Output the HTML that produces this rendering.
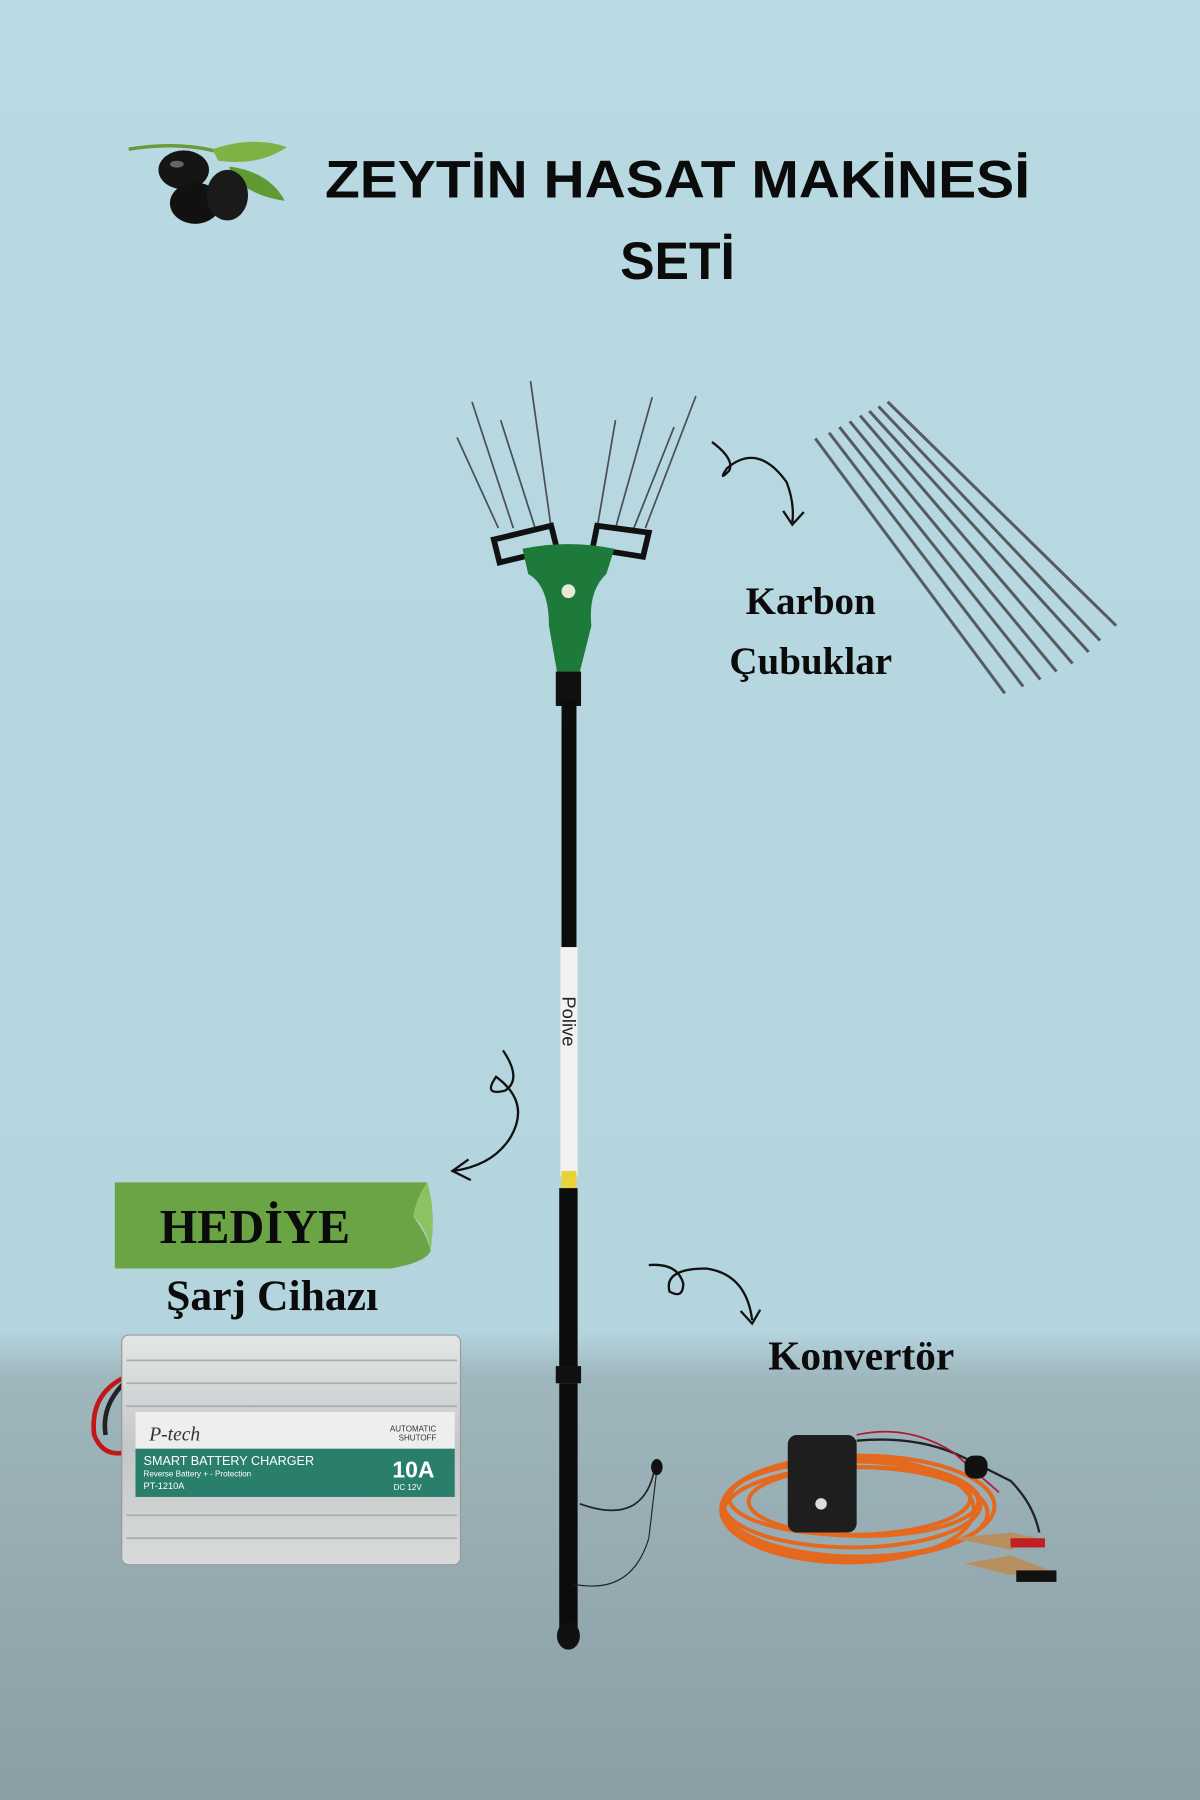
<!DOCTYPE html>
<html><head><meta charset="utf-8"><style>
html,body{margin:0;padding:0;width:1200px;height:1800px;overflow:hidden}
svg{display:block}
</style></head><body>
<svg width="1200" height="1800" viewBox="0 0 1045 1568" preserveAspectRatio="none" xmlns="http://www.w3.org/2000/svg">
<defs>
<linearGradient id="bg" x1="0" y1="0" x2="0" y2="1">
<stop offset="0" stop-color="#b9dae3"/><stop offset="0.74" stop-color="#b4d4de"/>
<stop offset="0.765" stop-color="#9fb6bd"/><stop offset="1" stop-color="#8a9ea3"/>
</linearGradient>
<linearGradient id="silver" x1="0" y1="0" x2="0" y2="1">
<stop offset="0" stop-color="#e4e6e6"/><stop offset="0.5" stop-color="#c4c7c8"/><stop offset="1" stop-color="#d9dbdb"/>
</linearGradient>
</defs>
<rect width="1045" height="1568" fill="url(#bg)"/>
<!-- olives -->
<path d="M112 130 Q160 122 200 135" stroke="#6a9a3a" stroke-width="3" fill="none"/>
<path d="M185 130 Q220 118 250 128 Q225 145 190 140Z" fill="#7fb245"/>
<path d="M200 145 Q235 150 248 175 Q215 170 200 150Z" fill="#5f9a32"/>
<ellipse cx="160" cy="148" rx="22" ry="17" fill="#151515"/>
<ellipse cx="170" cy="177" rx="22" ry="18" fill="#111"/>
<ellipse cx="198" cy="170" rx="18" ry="22" fill="#1a1a1a"/>
<ellipse cx="154" cy="143" rx="6" ry="3" fill="#666"/>
<!-- title -->
<g font-family="Liberation Sans, sans-serif" font-weight="bold" font-size="46" fill="#0b0b0b">
<text x="283" y="172" textLength="614" lengthAdjust="spacingAndGlyphs">ZEYTİN HASAT MAKİNESİ</text>
<text x="540" y="243" textLength="100" lengthAdjust="spacingAndGlyphs">SETİ</text>
</g>
<!-- tines -->
<g stroke="#4a5055" stroke-width="1.5">
<line x1="398" y1="381" x2="434" y2="460"/><line x1="411" y1="350" x2="447" y2="460"/>
<line x1="436" y1="366" x2="466" y2="460"/><line x1="462" y1="332" x2="480" y2="460"/>
<line x1="536" y1="366" x2="520" y2="460"/><line x1="568" y1="346" x2="536" y2="460"/>
<line x1="587" y1="372" x2="552" y2="460"/><line x1="606" y1="345" x2="562" y2="460"/>
</g>
<path d="M430 470 L480 458 L485 478 L435 490Z M520 458 L565 464 L560 485 L516 478Z" fill="none" stroke="#111" stroke-width="5"/>
<!-- head -->
<path d="M455 478 Q495 470 535 478 L528 500 Q512 515 515 545 L505 585 L485 585 L478 545 Q478 510 460 500Z" fill="#1d7a3a"/>
<circle cx="495" cy="515" r="6" fill="#e8e8d8"/>
<!-- pole -->
<rect x="484" y="585" width="22" height="30" fill="#111"/>
<rect x="489" y="610" width="13" height="220" fill="#0c0c0c"/>
<rect x="488" y="825" width="15" height="200" fill="#f2f2f2"/>
<text x="0" y="0" transform="translate(490 868) rotate(90)" font-family="Liberation Sans, sans-serif" font-size="16" fill="#222">Polive</text>
<rect x="489" y="1020" width="13" height="15" fill="#e8d23a"/>
<rect x="487" y="1035" width="16" height="160" fill="#0c0c0c"/>
<rect x="484" y="1190" width="22" height="15" fill="#111"/>
<rect x="487" y="1205" width="16" height="220" fill="#0c0c0c"/>
<ellipse cx="495" cy="1425" rx="10" ry="12" fill="#111"/>
<path d="M505 1310 Q560 1330 570 1280" stroke="#222" stroke-width="1.5" fill="none"/>
<path d="M500 1380 Q550 1390 565 1340 L572 1280" stroke="#222" stroke-width="1" fill="none"/>
<ellipse cx="572" cy="1278" rx="5" ry="7" fill="#111"/>
<!-- carbon rods -->
<g stroke="#555c60" stroke-width="2.6">
<line x1="710" y1="382" x2="875" y2="604"/><line x1="722" y1="377" x2="891" y2="598"/>
<line x1="731" y1="372" x2="906" y2="592"/><line x1="740" y1="367" x2="920" y2="585"/>
<line x1="749" y1="362" x2="934" y2="578"/><line x1="757" y1="358" x2="948" y2="568"/>
<line x1="765" y1="354" x2="958" y2="558"/><line x1="773" y1="350" x2="972" y2="545"/>
</g>
<!-- arrows -->
<g stroke="#111" stroke-width="2" fill="none">
<path d="M620 385 Q640 400 635 410 Q625 420 633 408 Q660 385 685 420 Q692 438 690 455"/>
<path d="M682 445 L690 457 L700 446"/>
<path d="M438 915 Q455 940 440 950 Q420 955 432 938 Q462 960 445 990 Q430 1015 395 1020"/>
<path d="M408 1010 L394 1020 L410 1028"/>
<path d="M565 1102 Q590 1100 595 1118 Q595 1132 583 1125 Q578 1105 615 1105 Q650 1110 655 1150"/>
<path d="M645 1142 L655 1153 L662 1141"/>
</g>
<g font-family="Liberation Serif, serif" font-weight="bold" fill="#0b0b0b">
<text x="706" y="535" font-size="34" text-anchor="middle">Karbon</text>
<text x="706" y="587" font-size="34" text-anchor="middle">Çubuklar</text>
<text x="750" y="1193" font-size="36" text-anchor="middle">Konvertör</text>
</g>
<!-- banner -->
<path d="M100 1030 L372 1030 Q362 1045 360 1060 Q372 1075 375 1090 Q370 1100 340 1105 L100 1105Z" fill="#6aa445"/>
<path d="M372 1030 Q362 1045 360 1060 Q372 1070 375 1090 Q380 1055 372 1030Z" fill="#8cc262"/>
<g font-family="Liberation Serif, serif" font-weight="bold" fill="#0b0b0b">
<text x="222" y="1083" font-size="42" text-anchor="middle">HEDİYE</text>
<text x="237" y="1141" font-size="38" text-anchor="middle">Şarj Cihazı</text>
</g>
<!-- charger -->
<path d="M108 1200 Q78 1215 82 1250 Q90 1270 110 1265" stroke="#c01818" stroke-width="4" fill="none"/>
<path d="M108 1205 Q88 1225 92 1250" stroke="#222" stroke-width="4" fill="none"/>
<rect x="106" y="1163" width="295" height="200" rx="6" fill="url(#silver)" stroke="#999" stroke-width="1"/>
<g stroke="#a8acae" stroke-width="1.5">
<line x1="110" y1="1185" x2="398" y2="1185"/><line x1="110" y1="1205" x2="398" y2="1205"/>
<line x1="110" y1="1225" x2="398" y2="1225"/><line x1="110" y1="1320" x2="398" y2="1320"/>
<line x1="110" y1="1340" x2="398" y2="1340"/>
</g>
<rect x="118" y="1230" width="278" height="32" fill="#eeeeee"/>
<rect x="118" y="1262" width="278" height="42" fill="#2a7f6c"/>
<text x="130" y="1255" font-family="Liberation Serif, serif" font-style="italic" font-size="17" fill="#333">P-tech</text>
<text x="380" y="1247" font-family="Liberation Sans, sans-serif" font-size="7" fill="#333" text-anchor="end">AUTOMATIC</text>
<text x="380" y="1255" font-family="Liberation Sans, sans-serif" font-size="7" fill="#333" text-anchor="end">SHUTOFF</text>
<text x="125" y="1276" font-family="Liberation Sans, sans-serif" font-size="11" fill="#fff">SMART BATTERY CHARGER</text>
<text x="125" y="1286" font-family="Liberation Sans, sans-serif" font-size="7" fill="#fff">Reverse  Battery + - Protection</text>
<text x="125" y="1297" font-family="Liberation Sans, sans-serif" font-size="8" fill="#fff">PT-1210A</text>
<text x="360" y="1287" font-family="Liberation Sans, sans-serif" font-weight="bold" font-size="20" fill="#fff" text-anchor="middle">10A</text>
<text x="355" y="1298" font-family="Liberation Sans, sans-serif" font-size="7" fill="#fff" text-anchor="middle">DC 12V</text>
<!-- convertor -->
<g stroke="#e4691f" stroke-width="3.5" fill="none">
<ellipse cx="742" cy="1310" rx="112" ry="38"/><ellipse cx="748" cy="1312" rx="118" ry="44"/>
<ellipse cx="740" cy="1305" rx="105" ry="32"/><ellipse cx="745" cy="1318" rx="115" ry="40"/>
<ellipse cx="752" cy="1308" rx="100" ry="30"/><ellipse cx="738" cy="1315" rx="110" ry="46"/>
</g>
<rect x="686" y="1250" width="60" height="85" rx="8" fill="#1e1e1e"/>
<circle cx="715" cy="1310" r="5" fill="#ddd"/>
<path d="M746 1255 Q800 1250 840 1270 L880 1290 Q900 1310 905 1335" stroke="#222" stroke-width="2" fill="none"/>
<path d="M746 1250 Q790 1240 830 1265 L870 1300" stroke="#b01838" stroke-width="1.5" fill="none"/>
<rect x="840" y="1268" width="20" height="20" rx="8" fill="#111"/>
<path d="M830 1340 L880 1335 L905 1340 L880 1350Z" fill="#b89060"/>
<path d="M840 1362 L880 1355 L920 1370 L880 1372Z" fill="#b89060"/>
<rect x="880" y="1340" width="30" height="8" fill="#c02020"/>
<rect x="885" y="1368" width="35" height="10" fill="#111"/>
</svg>
</body></html>
